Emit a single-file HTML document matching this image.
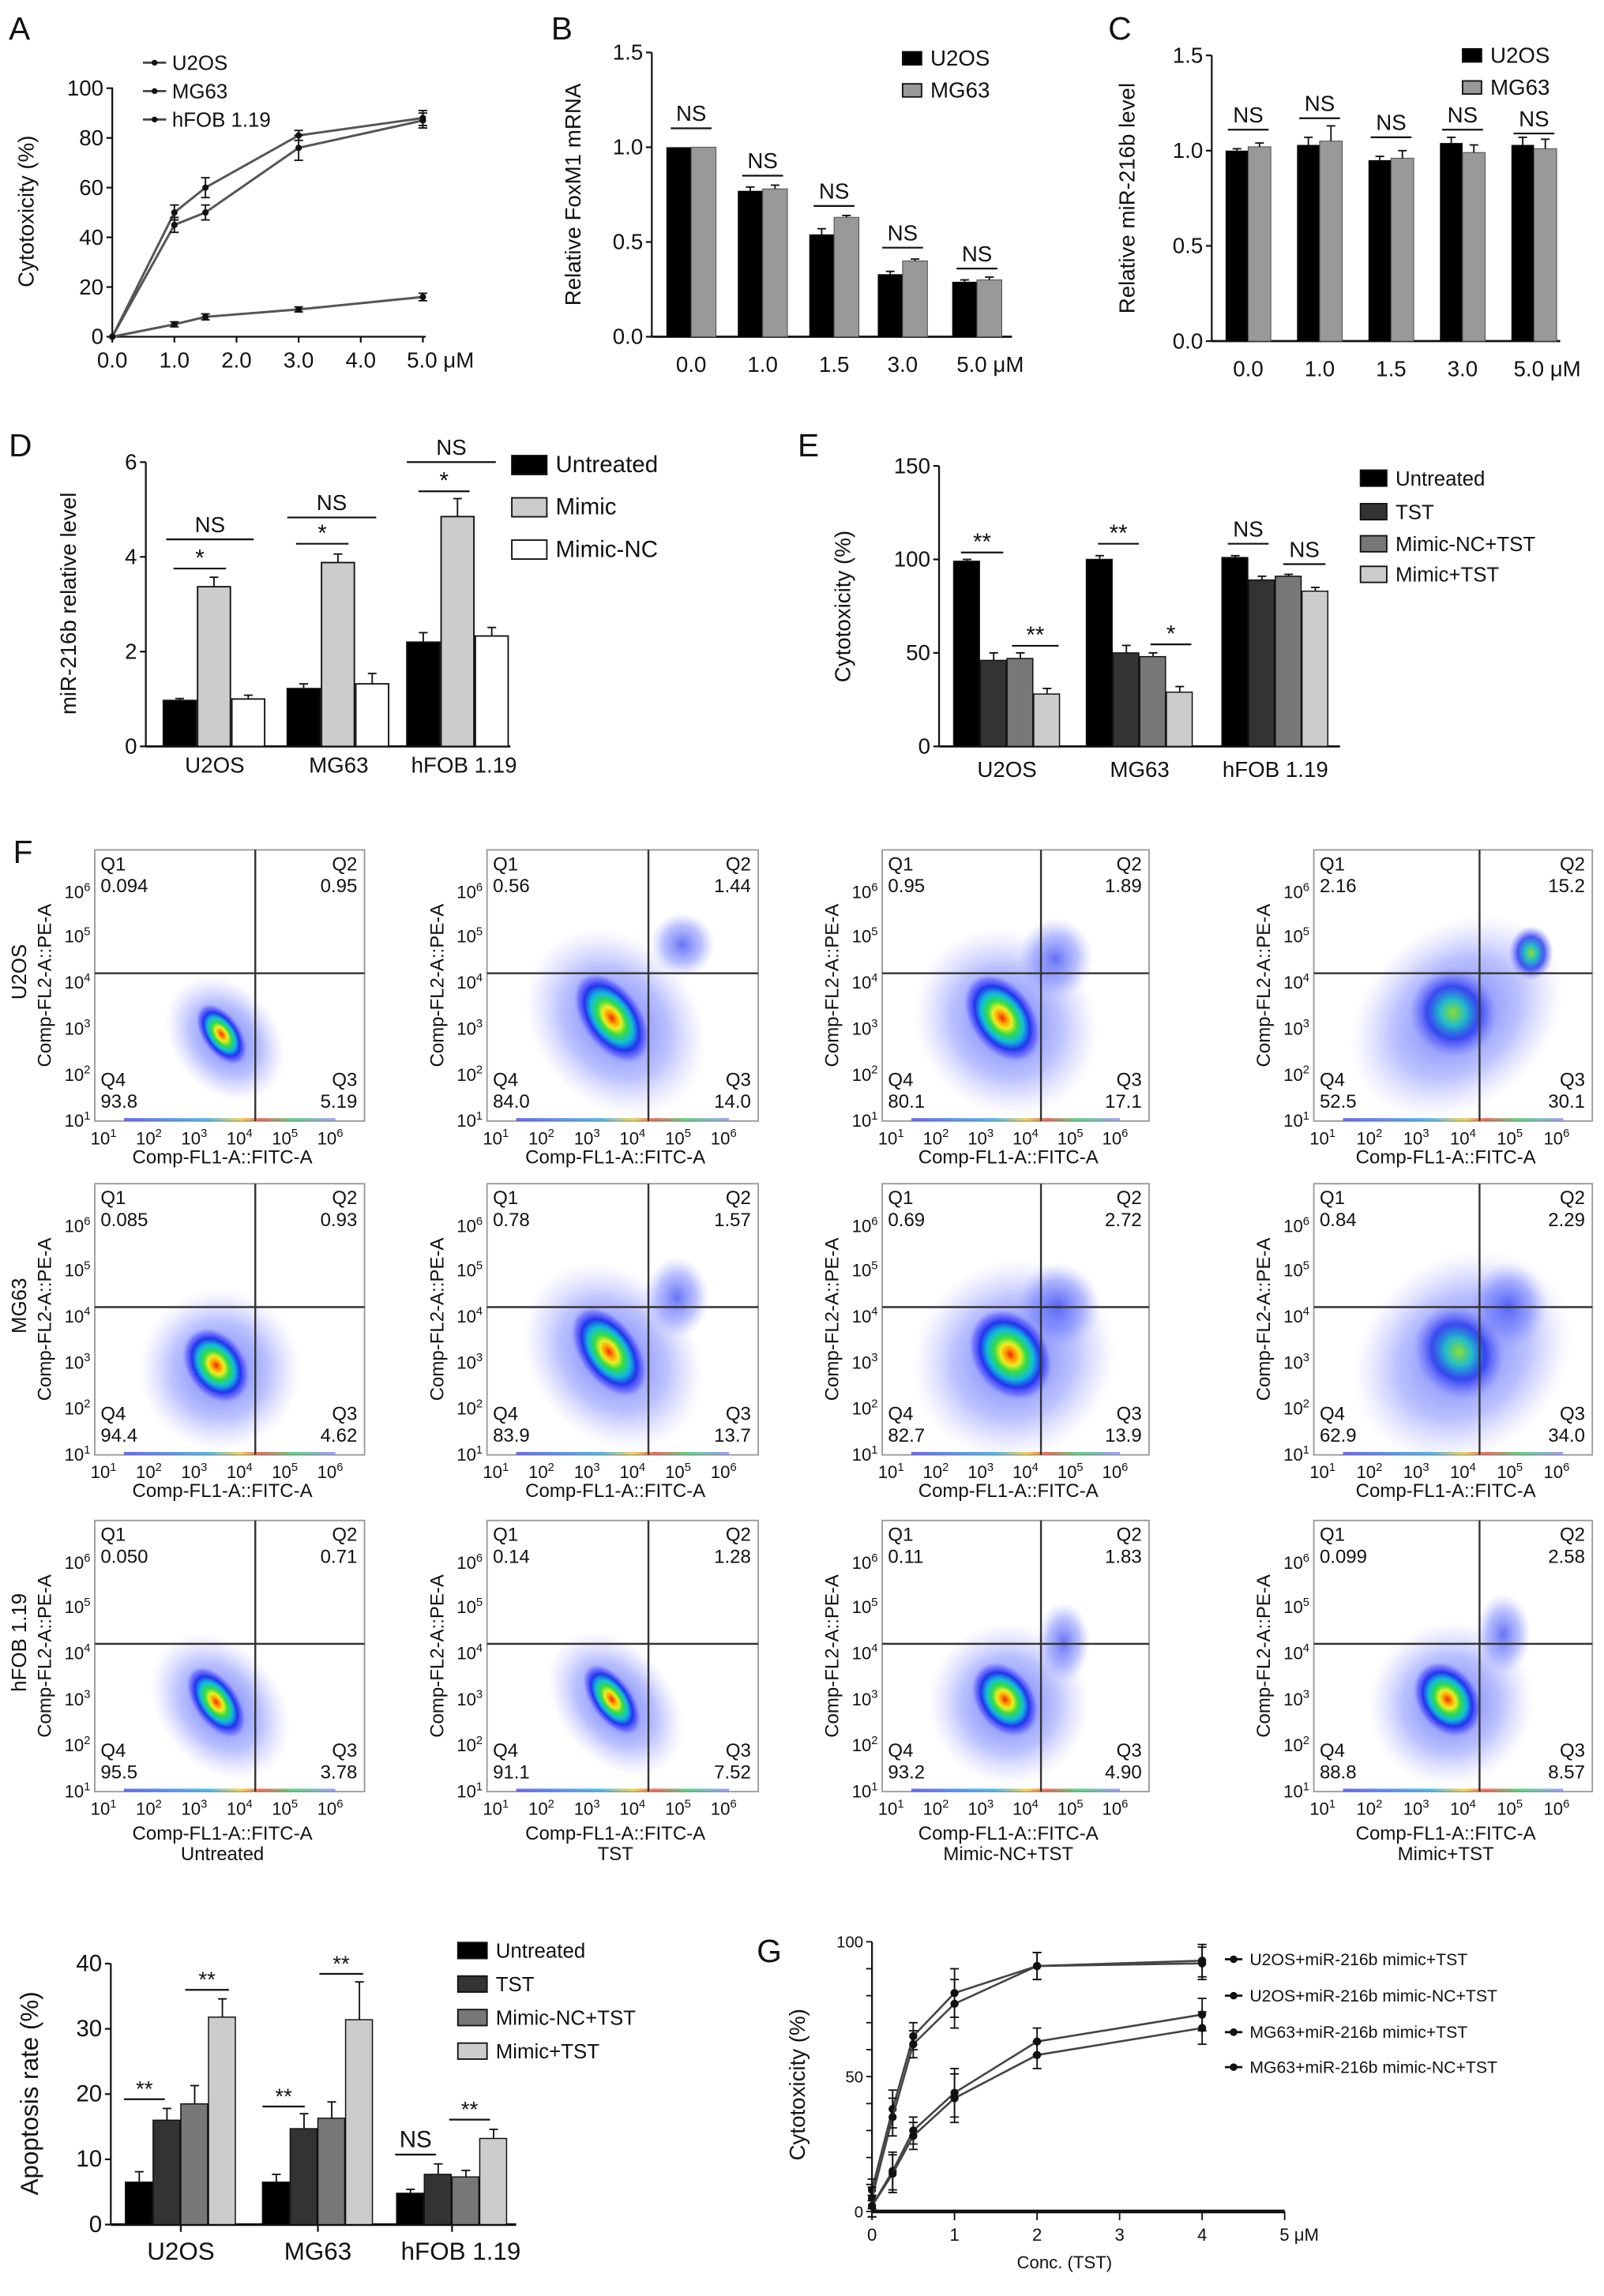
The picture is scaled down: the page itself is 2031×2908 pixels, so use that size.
<!DOCTYPE html>
<html><head><meta charset="utf-8"><style>
html,body{margin:0;padding:0;background:#fff;}
svg{display:block;font-family:"Liberation Sans",sans-serif;}
</style></head><body>
<svg id="fig" xmlns="http://www.w3.org/2000/svg" width="2031" height="2908" viewBox="0 0 1100 1575" preserveAspectRatio="none">
<defs>
<radialGradient id="dens" cx="50%" cy="50%" r="50%">
<stop offset="0" stop-color="#e21"/><stop offset="0.12" stop-color="#f90"/><stop offset="0.24" stop-color="#ee2"/>
<stop offset="0.38" stop-color="#3d4"/><stop offset="0.55" stop-color="#1bd"/><stop offset="0.72" stop-color="#23e"/>
<stop offset="0.88" stop-color="#55f" stop-opacity="0.6"/><stop offset="1" stop-color="#88f" stop-opacity="0"/>
</radialGradient>
<radialGradient id="sparse" cx="50%" cy="50%" r="50%">
<stop offset="0" stop-color="#34e" stop-opacity="0.75"/><stop offset="0.6" stop-color="#56f" stop-opacity="0.4"/><stop offset="1" stop-color="#99f" stop-opacity="0"/>
</radialGradient>
<radialGradient id="dens2" cx="50%" cy="50%" r="50%">
<stop offset="0" stop-color="#8d3"/><stop offset="0.3" stop-color="#2bc"/><stop offset="0.6" stop-color="#23e" stop-opacity="0.8"/><stop offset="1" stop-color="#66f" stop-opacity="0"/>
</radialGradient>
<linearGradient id="strip" x1="0" x2="1"><stop offset="0" stop-color="#44f"/><stop offset="0.4" stop-color="#2ae"/><stop offset="0.55" stop-color="#ec2"/><stop offset="0.65" stop-color="#e43"/><stop offset="0.8" stop-color="#3c6"/><stop offset="1" stop-color="#88f"/></linearGradient>
</defs>
</svg>
<script>
// ---------- data ----------
const aX = [0, 1.0, 1.5, 3.0, 5.0];
const aU2OS = [0, 50, 60, 81, 88];
const aMG63 = [0, 45, 50, 76, 87];
const aHFOB = [0, 5, 8, 11, 16];
const aErrU = [0, 3, 4, 2, 3];
const aErrM = [0, 3, 3, 5, 3];
const aErrH = [0, 1, 1.2, 1, 1.5];
const aXTicks = ["0.0","1.0","2.0","3.0","4.0","5.0 μM"];

const bCats = ["0.0","1.0","1.5","3.0","5.0 μM"];
const bU2OS = [1.0, 0.77, 0.54, 0.33, 0.29];
const bMG63 = [1.0, 0.78, 0.63, 0.40, 0.30];
const bErrU = [0, 0.02, 0.03, 0.015, 0.01];
const bErrM = [0, 0.02, 0.01, 0.01, 0.015];
const bSig = [1.1, 0.85, 0.69, 0.47, 0.36];

const cU2OS = [1.0, 1.03, 0.95, 1.04, 1.03];
const cMG63 = [1.02, 1.05, 0.96, 0.99, 1.01];
const cErrU = [0.01, 0.04, 0.02, 0.03, 0.04];
const cErrM = [0.02, 0.08, 0.04, 0.04, 0.05];
const cSig = [1.11, 1.17, 1.07, 1.11, 1.09];

const groups3 = ["U2OS","MG63","hFOB 1.19"];
const dUntreated = [0.97, 1.22, 2.2];
const dMimic = [3.37, 3.88, 4.85];
const dMimicNC = [1.0, 1.32, 2.33];
const dErrUn = [0.04, 0.1, 0.2];
const dErrMi = [0.2, 0.18, 0.38];
const dErrNC = [0.08, 0.22, 0.18];

const eUntreated = [99, 100, 101];
const eTST = [46, 50, 89];
const eMimicNC = [47, 48, 91];
const eMimic = [28, 29, 83];
const eErrs = [[1,4,3,3],[2,4,2,3],[1,2,1,2]];

const fRows = ["U2OS","MG63","hFOB 1.19"];
const fCols = ["Untreated","TST","Mimic-NC+TST","Mimic+TST"];
const fQ = [
 [["0.094","0.95","93.8","5.19"],["0.56","1.44","84.0","14.0"],["0.95","1.89","80.1","17.1"],["2.16","15.2","52.5","30.1"]],
 [["0.085","0.93","94.4","4.62"],["0.78","1.57","83.9","13.7"],["0.69","2.72","82.7","13.9"],["0.84","2.29","62.9","34.0"]],
 [["0.050","0.71","95.5","3.78"],["0.14","1.28","91.1","7.52"],["0.11","1.83","93.2","4.90"],["0.099","2.58","88.8","8.57"]]
];

const apUntreated = [6.5, 6.5, 4.8];
const apTST = [16.0, 14.7, 7.7];
const apMimicNC = [18.5, 16.3, 7.3];
const apMimic = [31.8, 31.4, 13.2];
const apErrs = [[1.6,1.8,2.8,2.8],[1.2,2.3,2.5,5.8],[0.6,1.6,1.0,1.4]];

const gX = [0, 0.25, 0.5, 1, 2, 4];
const gU2OSMimic = [8, 38, 65, 81, 91, 93];
const gU2OSNC = [5, 35, 62, 77, 91, 92];
const gMG63Mimic = [2, 15, 30, 44, 63, 73];
const gMG63NC = [2, 14, 28, 42, 58, 68];
const gErr = [4, 7, 5, 9, 5, 6];
const gNames = ["U2OS+miR-216b mimic+TST","U2OS+miR-216b mimic-NC+TST","MG63+miR-216b mimic+TST","MG63+miR-216b mimic-NC+TST"];

// ---------- helpers ----------
const NS = "http://www.w3.org/2000/svg";
const svg = document.getElementById('fig');
function mk(tag, attrs, parent){
  const e = document.createElementNS(NS, tag);
  for (const k in attrs) e.setAttribute(k, attrs[k]);
  (parent||svg).appendChild(e);
  return e;
}
function txt(x,y,s,size,anchor,parent,extra){
  const a = {x:x,y:y,'font-size':size,'text-anchor':anchor||'middle',fill:'#111'};
  if (extra) for (const k in extra) a[k]=extra[k];
  const t = mk('text',a,parent); t.textContent = s; return t;
}
function line(x1,y1,x2,y2,w,parent,col){
  return mk('line',{x1:x1,y1:y1,x2:x2,y2:y2,stroke:col||'#111','stroke-width':w||1},parent);
}
function errbar(x,y1,y2,parent){
  const g = mk('g',{},parent);
  
  
  line(x,y1,x,y2,1,g); line(x-3,y2,x+3,y2,1,g);
  return g;
}
function letter(x,y,s){
  const t = txt(x,y,s,22,'start');
  
  
}
function yAxis(g,x,y0,y1,ticks,fy,labels,size){
  line(x,y0,x,y1,1.2,g);
  ticks.forEach((v,i)=>{ line(x-4,fy(v),x,fy(v),1.2,g);
    const t = txt(x-6,fy(v)+5,labels[i],size||15,'end',g);
    
    
  });
}
function sigLine(g,x1,x2,y,label,size){
  line(x1,y,x2,y,1.2,g);
  const t = txt((x1+x2)/2, label.indexOf('*')>=0 ? y-2 : y-5, label, size||15,'middle',g);
  
  
}
function legendBox(g,x,y,fill,label,w,h,size){
  const r = mk('rect',{x:x,y:y-h/2,width:w,height:h,fill:fill,stroke:'#111','stroke-width':1},g);
  
  
  const t = txt(x+w+6,y+5,label,size||15,'start',g);
  
  
}

// ---------- Panel A ----------
(function(){
  const g = mk('g',{});
  
  
  letter(6,27,'A');
  const xA = v => 77 + v*42.6, yA = v => 231 - v*1.705;
  yAxis(g,77,231,60,[0,20,40,60,80,100],yA,["0","20","40","60","80","100"],15);
  line(77,231,292,231,1.2,g);
  [0,1,2,3,4,5].forEach((v,i)=>{ line(xA(v),231,xA(v),235,1.2,g);
    const t = txt(i==5?xA(v)-11:xA(v),252,aXTicks[i],15,i==5?'start':'middle',g);
    
    
  });
  const yl = txt(0,0,'Cytotoxicity (%)',15,'middle',g,{transform:'translate(23,145) rotate(-90)'});
  
  
  [[aU2OS,aErrU,'u2os'],[aMG63,aErrM,'mg63'],[aHFOB,aErrH,'hfob']].forEach(s=>{
    const pts = aX.map((v,i)=>xA(v)+','+yA(s[0][i])).join(' ');
    const pl = mk('polyline',{points:pts,fill:'none',stroke:'#555','stroke-width':1.6},g);
    
    
    aX.forEach((v,i)=>{
      if (s[1][i]>0){ errbar(xA(v),yA(s[0][i]),yA(s[0][i]+s[1][i]),g); errbar(xA(v),yA(s[0][i]),yA(s[0][i]-s[1][i]),g); }
      const c = mk('circle',{cx:xA(v),cy:yA(s[0][i]),r:2.2,fill:'#111'},g);
      
      
    });
  });
  ['U2OS','MG63','hFOB 1.19'].forEach((n,i)=>{
    const y = 43+i*19.5;
    line(98,y,114,y,1.5,g,'#444'); mk('circle',{cx:106,cy:y,r:2,fill:'#111'},g);
    const t = txt(118,y+5,n,14,'start',g);
    
    
  });
})();

// ---------- Panels B & C ----------
function pairPanel(name, letterStr, lx, axX, y0, y15, centers, axEnd, U, M, eU, eM, sig, ylabel, ylX, legX, legY, bw){
  const g = mk('g',{});
  
  
  letter(lx,27,letterStr);
  const fy = v => y0 - v*(y0-y15)/1.5;
  yAxis(g,axX,y0,y15,[0,0.5,1.0,1.5],fy,["0.0","0.5","1.0","1.5"],15);
  line(axX,y0,axEnd,y0,1.5,g);
  centers.forEach((c,i)=>{
    const b1 = mk('rect',{x:c-bw,y:fy(U[i]),width:bw,height:y0-fy(U[i]),fill:'#000'},g);
    
    
    const b2 = mk('rect',{x:c,y:fy(M[i]),width:bw,height:y0-fy(M[i]),fill:'#999',stroke:'#555','stroke-width':0.6},g);
    
    
    if (eU[i]>0) errbar(c-bw/2,fy(U[i]),fy(U[i]+eU[i]),g);
    if (eM[i]>0) errbar(c+bw/2,fy(M[i]),fy(M[i]+eM[i]),g);
    sigLine(g,c-14,c+14,fy(sig[i]),'NS',15);
    const t = txt(i==4?c-14:c,y0+24,bCats[i],15,i==4?'start':'middle',g);
    
    
  });
  const yl = txt(0,0,ylabel,15,'middle',g,{transform:'translate('+ylX+','+((y0+y15)/2)+') rotate(-90)'});
  
  
  legendBox(g,legX,legY,'#000','U2OS',13,9,15);
  legendBox(g,legX,legY+22,'#999','MG63',13,9,15);
}
pairPanel('panel-b-bar-chart','B',378,447,231,36,[474,523,572,619,670],694,bU2OS,bMG63,bErrU,bErrM,bSig,'Relative FoxM1 mRNA',398,619,40,17);
pairPanel('panel-c-bar-chart','C',760,831,234,38,[856,905,954,1003,1052],1070,cU2OS,cMG63,cErrU,cErrM,cSig,'Relative miR-216b level',778,1003,38,15.5);

// ---------- Panel D ----------
(function(){
  const g = mk('g',{});
  
  
  letter(6,313,'D');
  const y0=512, fy = v => y0 - v*(512-317)/6;
  yAxis(g,100,y0,317,[0,2,4,6],fy,["0","2","4","6"],15);
  line(100,y0,350,y0,1.5,g);
  const starts=[112,197,279], bw=23.5;
  const fills=['#000','#ccc','#fff'];
  const series=[dUntreated,dMimic,dMimicNC], errs=[dErrUn,dErrMi,dErrNC];
  groups3.forEach((gn,i)=>{
    series.forEach((s,j)=>{
      const x = starts[i]+j*bw;
      const r = mk('rect',{x:x,y:fy(s[i]),width:bw-1,height:y0-fy(s[i]),fill:fills[j],stroke:'#111','stroke-width':1},g);
      
      
      errbar(x+bw/2-0.5,fy(s[i]),fy(s[i]+errs[j][i]),g);
    });
    const t = txt(starts[i]+bw*1.5+ (i==2?4:0),530,gn,15,'middle',g);
    
    
  });
  sigLine(g,114,174,370,'NS'); sigLine(g,119,155,390,'*',16);
  sigLine(g,197,258,355,'NS'); sigLine(g,203,239,373,'*',16);
  sigLine(g,279,340,317,'NS'); sigLine(g,287,322,337,'*',16);
  const yl = txt(0,0,'miR-216b relative level',15,'middle',g,{transform:'translate(52,414) rotate(-90)'});
  
  
  legendBox(g,351,319,'#000','Untreated',24,13,16);
  legendBox(g,351,348,'#ccc','Mimic',24,13,16);
  legendBox(g,351,377,'#fff','Mimic-NC',24,13,16);
})();

// ---------- Panel E ----------
(function(){
  const g = mk('g',{});
  
  
  letter(547,313,'E');
  const y0=512, fy = v => y0 - v*(512-319.6)/150;
  yAxis(g,644,y0,319.6,[0,50,100,150],fy,["0","50","100","150"],15);
  line(644,y0,919,y0,1.5,g);
  const starts=[654,745,838], bw=18.3;
  const fills=['#000','#333','#777','#ccc'];
  const series=[eUntreated,eTST,eMimicNC,eMimic];
  groups3.forEach((gn,i)=>{
    series.forEach((s,j)=>{
      const x = starts[i]+j*bw;
      const r = mk('rect',{x:x,y:fy(s[i]),width:bw-0.6,height:y0-fy(s[i]),fill:fills[j],stroke:'#111','stroke-width':0.8},g);
      
      
      errbar(x+bw/2,fy(s[i]),fy(s[i]+eErrs[i][j]),g);
    });
    const t = txt(starts[i]+bw*2,533,gn,15,'middle',g);
    
    
  });
  sigLine(g,659,688,379,'**',16); sigLine(g,694,726,443,'**',16);
  sigLine(g,753,781,373,'**',16); sigLine(g,789,817,442,'*',16);
  sigLine(g,842,870,373,'NS'); sigLine(g,880,909,387,'NS');
  const yl = txt(0,0,'Cytotoxicity (%)',15,'middle',g,{transform:'translate(583,416) rotate(-90)'});
  
  
  ['Untreated','TST','Mimic-NC+TST','Mimic+TST'].forEach((n,j)=>legendBox(g,933,[328,351,373,394][j],fills[j],n,18,11,14));
})();

// ---------- Panel F ----------
letter(9,592,'F');
(function(){
  const lefts=[65,334,605,901], tops=[583,812,1043], W=[185,186,183,191], H=186;
  const clusters = [
    [[0.47,0.68,0.13,0.17,null],[0.46,0.62,0.2,0.25,[0.72,0.35,0.12,0.12]],[0.45,0.62,0.22,0.24,[0.65,0.4,0.14,0.15]],[0.5,0.6,0.28,0.22,[0.78,0.38,0.08,0.1]]],
    [[0.45,0.67,0.2,0.2,null],[0.45,0.62,0.2,0.25,[0.7,0.42,0.12,0.15]],[0.48,0.63,0.26,0.24,[0.66,0.45,0.16,0.16]],[0.52,0.62,0.28,0.24,[0.7,0.45,0.14,0.16]]],
    [[0.45,0.67,0.15,0.2,null],[0.46,0.66,0.14,0.2,null],[0.46,0.66,0.2,0.2,[0.68,0.45,0.1,0.15]],[0.48,0.66,0.2,0.2,[0.68,0.42,0.1,0.15]]]
  ];
  for (let r=0;r<3;r++) for (let c=0;c<4;c++){
    const L=lefts[c], T=tops[r], w=W[c], B=T+H, R=L+w;
    const g = mk('g',{});
    
    
    const fr = mk('rect',{x:L,y:T,width:w,height:H,fill:'#fff',stroke:'#999','stroke-width':1},g);
    
    
    const cl = clusters[r][c];
    const cx=L+cl[0]*w, cy=T+cl[1]*H;
    const halo = mk('ellipse',{cx:cx,cy:cy+4,rx:cl[2]*w*1.5,ry:cl[3]*H*1.5,fill:'url(#sparse)',transform:'rotate(-40 '+cx+' '+cy+')'},g);
    
    
    if (cl[4]){
      const sx=L+cl[4][0]*w, sy=T+cl[4][1]*H;
      const s2 = mk('ellipse',{cx:sx,cy:sy,rx:cl[4][2]*w,ry:cl[4][3]*H,fill:c==3&&r==0?'url(#dens2)':'url(#sparse)'},g);
      
      
    }
    const core = mk('ellipse',{cx:cx,cy:cy,rx:cl[2]*w*0.55,ry:cl[3]*H*0.75,fill:(c==3&&r<2)?'url(#dens2)':'url(#dens)',transform:'rotate(-35 '+cx+' '+cy+')'},g);
    
    
    mk('rect',{x:L+20,y:B-2,width:w-40,height:2,fill:'url(#strip)',opacity:0.8},g);
    const gx = L+0.595*w, gy = T+0.455*H;
    const vl = line(gx,T,gx,B,1.3,g,'#333');
    
    
    const hl = line(L,gy,R,gy,1.3,g,'#333');
    
    
    const q = fQ[r][c];
    const qt = [['Q1',q[0],L+4,T+14,'start'],['Q2',q[1],R-5,T+14,'end'],['Q4',q[2],L+4,B-24,'start'],['Q3',q[3],R-5,B-24,'end']];
    qt.forEach(a=>{
      const t1 = txt(a[2],a[3],a[0],13,a[4],g);
      
      
      const t2 = txt(a[2],a[3]+15,a[1],13,a[4],g);
      
      
    });
    const yf=[0.157,0.32,0.49,0.66,0.83,1.0];
    for (let k=0;k<6;k++){
      const t = txt(L-3,T+yf[k]*H+4,'10',12,'end',g);
      const sp = mk('tspan',{dy:-5,'font-size':8},t); sp.textContent = String(6-k);
      
      
      const tx = txt(L+6+k*0.168*w,B+16,'10',12,'middle',g);
      const sp2 = mk('tspan',{dy:-5,'font-size':8},tx); sp2.textContent = String(k+1);
      
      
    }
    const xt = txt(L+0.5*w-5,B+(r==2?33:29),'Comp-FL1-A::FITC-A',13,'middle',g);
    
    
    const yt = txt(0,0,'Comp-FL2-A::PE-A',13,'middle',g,{transform:'translate('+(L-30)+','+(T+H*0.5)+') rotate(-90)'});
    
    
    if (c==0){
      const rl = txt(0,0,fRows[r],14,'middle',g,{transform:'translate('+(L-47)+','+(T+H*0.45)+') rotate(-90)'});
      
      
    }
    if (r==2){
      const cln = txt(L+0.5*w-5,1276,fCols[c],13,'middle',g);
      
      
    }
  }
})();

// ---------- Apoptosis panel ----------
(function(){
  const g = mk('g',{});
  
  
  const y0=1526, fy = v => y0 - v*(1526-1347)/40;
  yAxis(g,76,y0,1347,[0,10,20,30,40],fy,["0","10","20","30","40"],16);
  line(76,y0,354,y0,1.8,g);
  const starts=[86,180,272], bw=19;
  const fills=['#000','#333','#777','#ccc'];
  const series=[apUntreated,apTST,apMimicNC,apMimic];
  groups3.forEach((gn,i)=>{
    series.forEach((s,j)=>{
      const x = starts[i]+j*bw;
      const r = mk('rect',{x:x,y:fy(s[i]),width:bw-0.6,height:y0-fy(s[i]),fill:fills[j],stroke:'#111','stroke-width':0.8},g);
      
      
      errbar(x+bw/2,fy(s[i]),fy(s[i]+apErrs[i][j]),g);
    });
    line(starts[i]+bw*2,y0,starts[i]+bw*2,y0+5,1.2,g);
    const t = txt(starts[i]+bw*2+(i==2?6:0),1550,gn,17,'middle',g);
    
    
  });
  sigLine(g,85,113,1440,'**',15); sigLine(g,127,157,1365,'**',15);
  sigLine(g,180,209,1445,'**',15); sigLine(g,219,249,1354,'**',15);
  sigLine(g,271,299,1478,'NS',16); sigLine(g,308,336,1454,'**',15);
  const yl = txt(0,0,'Apoptosis rate (%)',17,'middle',g,{transform:'translate(26,1436) rotate(-90)'});
  
  
  ['Untreated','TST','Mimic-NC+TST','Mimic+TST'].forEach((n,j)=>legendBox(g,314,[1338,1361,1384,1407][j],fills[j],n,20,11,14));
})();

// ---------- Panel G ----------
letter(519,1346,'G');
(function(){
  const g = mk('g',{});
  
  
  const xG = v => 598 + v*56.6, yG = v => 1517 - v*1.85;
  line(598,1517,598,1332,1.2,g);
  for (let v=0; v<=100; v+=10){ line(594,yG(v),598,yG(v),1,g); }
  [0,50,100].forEach(v=>{ const t = txt(592,yG(v)+4,String(v),11,'end',g);
    
     });
  line(598,1517,881,1517,2.5,g);
  [0,1,2,3,4,5].forEach(v=>{ line(xG(v),1517,xG(v),1523,1,g);
    const t = txt(xG(v)+(v==5?10:0),1537,v==5?'5  μM':String(v),12,'middle',g);
    
     });
  const xl = txt(730,1556,'Conc. (TST)',12,'middle',g);
  
  
  const yl = txt(0,0,'Cytotoxicity (%)',15,'middle',g,{transform:'translate(552,1430) rotate(-90)'});
  
  
  const series=[gU2OSMimic,gU2OSNC,gMG63Mimic,gMG63NC];
  series.forEach((s,k)=>{
    const pl = mk('polyline',{points:gX.map((v,i)=>xG(v)+','+yG(s[i])).join(' '),fill:'none',stroke:'#444','stroke-width':1.4},g);
    
    
    gX.forEach((v,i)=>{
      errbar(xG(v),yG(s[i]),yG(s[i]+gErr[i]),g); errbar(xG(v),yG(s[i]),yG(s[i]-gErr[i]),g);
      const m = mk('circle',{cx:xG(v),cy:yG(s[i]),r:2.8,fill:'#111'},g);
      
      
    });
    const ly = [1344,1369,1394,1418][k];
    line(840,ly,852,ly,1.5,g); mk('circle',{cx:846,cy:ly,r:2.6,fill:'#111'},g);
    const t = txt(857,ly+4,gNames[k],11.5,'start',g);
    
    
  });
})();
</script>
</body></html>
